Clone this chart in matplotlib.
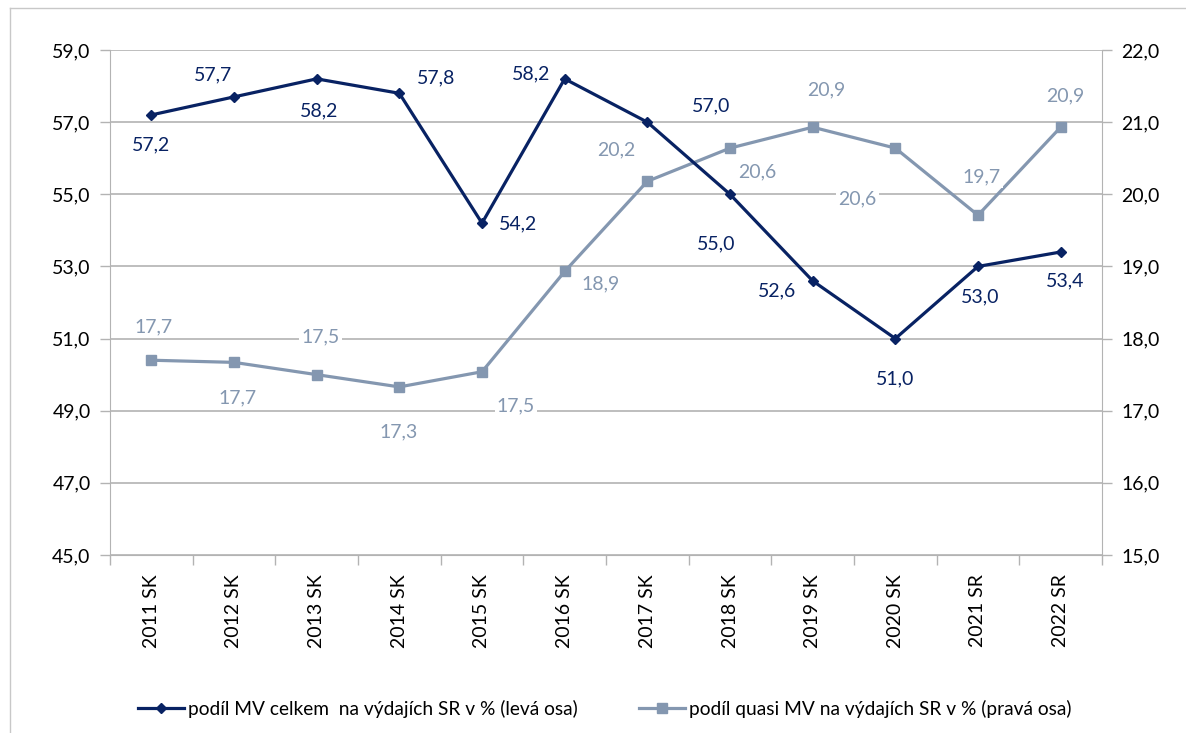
import matplotlib
matplotlib.use("Agg")
import matplotlib.pyplot as plt
from matplotlib.lines import Line2D

# -----------------------------
# DATA
# -----------------------------
years = ["2011 SK", "2012 SK", "2013 SK", "2014 SK", "2015 SK", "2016 SK",
         "2017 SK", "2018 SK", "2019 SK", "2020 SK", "2021 SR", "2022 SR"]
mv_total = [57.2, 57.7, 58.2, 57.8, 54.2, 58.2, 57.0, 55.0, 52.6, 51.0, 53.0, 53.4]
mv_quasi = [17.70, 17.67, 17.50, 17.33, 17.54, 18.93, 20.18, 20.64, 20.93, 20.64, 19.71, 20.93]

left_ticks = [45, 47, 49, 51, 53, 55, 57, 59]
right_ticks = [15, 16, 17, 18, 19, 20, 21, 22]

# label offsets in pixels (dx, dy), as placed in the original chart
total_offsets = [(0, -30), (-21, 22), (2, -32), (37, 15), (36, -1), (-34, 5),
                 (64, 16), (-14, -50), (-36, -10), (0, -40), (2, -30), (4, -29)]
quasi_offsets = [(2, 33), (4, -35), (4, 38), (-1, -45), (34, -34), (36, -12),
                 (-31, 31), (27, -24), (14, 37), (-38, -51), (4, 38), (5, 31)]

NAVY = "#082263"
STEEL = "#8497b0"
GRID = "#b3b3b3"
FONT = "Lato"
FS = 14


def fmt(v):
    return f"{v:.1f}".replace(".", ",")


plt.rcParams["font.family"] = [FONT, "DejaVu Sans"]

fig = plt.figure(figsize=(11.86, 7.33), dpi=100)
ax = fig.add_axes([110 / 1186, 1 - 555 / 733, 992 / 1186, 505 / 733])
ax2 = ax.twinx()

# navy line on top of the grey one
ax.set_zorder(ax2.get_zorder() + 1)
ax.patch.set_visible(False)
ax2.patch.set_visible(True)
ax2.patch.set_facecolor("white")

x = list(range(len(years)))

ax.plot(x, mv_total, color=NAVY, lw=2.3, marker="D", ms=5.5, zorder=3)
ax2.plot(x, mv_quasi, color=STEEL, lw=2.3, marker="s", ms=7, zorder=3)

for xi, v, (dx, dy) in zip(x, mv_total, total_offsets):
    ax.annotate(fmt(v), (xi, v), xytext=(dx, dy), textcoords="offset pixels",
                ha="center", va="center", fontsize=FS, color=NAVY, zorder=5,
                bbox=dict(fc="white", ec="none", pad=1.5))

for xi, v, (dx, dy) in zip(x, mv_quasi, quasi_offsets):
    ax2.annotate(fmt(v), (xi, v), xytext=(dx, dy), textcoords="offset pixels",
                 ha="center", va="center", fontsize=FS, color=STEEL, zorder=5,
                 bbox=dict(fc="white", ec="none", pad=1.5))

# -----------------------------
# AXES
# -----------------------------
ax.set_xlim(-0.5, len(years) - 0.5)
ax.set_ylim(45, 59)
ax2.set_ylim(15, 22)

ax.set_yticks(left_ticks)
ax.set_yticklabels([fmt(t) for t in left_ticks])
ax2.set_yticks(right_ticks)
ax2.set_yticklabels([fmt(t) for t in right_ticks])

ax.set_xticks(x)
ax.set_xticklabels(years, rotation=90, fontsize=FS)
ax.set_xticks([i - 0.5 for i in range(len(years) + 1)], minor=True)
ax.tick_params(axis="x", which="major", length=0, pad=14)
ax.tick_params(axis="x", which="minor", length=7, color=GRID, width=1)

ax.tick_params(axis="y", length=7, color=GRID, width=1, labelsize=FS, pad=7)
ax2.tick_params(axis="y", length=7, color=GRID, width=1, labelsize=FS, pad=7)

ax2.yaxis.grid(True, color=GRID, lw=1.2)
ax2.set_axisbelow(True)

for a in (ax, ax2):
    for s in a.spines.values():
        s.set_visible(False)
ax.spines["left"].set_visible(True)
ax.spines["left"].set_color(GRID)
ax.spines["bottom"].set_visible(True)
ax.spines["bottom"].set_color(GRID)
ax2.spines["right"].set_visible(True)
ax2.spines["right"].set_color(GRID)

# -----------------------------
# LEGEND
# -----------------------------
handles = [
    Line2D([], [], color=NAVY, lw=2.3, marker="D", ms=5),
    Line2D([], [], color=STEEL, lw=2.3, marker="s", ms=6.5),
]
labels = [
    "podíl MV celkem  na výdajích SR v % (levá osa)",
    "podíl quasi MV na výdajích SR v % (pravá osa)",
]
fig.legend(handles, labels, loc="center", bbox_to_anchor=(0.51, 1 - 709 / 733),
           ncol=2, frameon=False, fontsize=13.8, handlelength=2.4,
           handletextpad=0.2, columnspacing=3.2)

# outer chart frame (top and left edges visible)
fig.add_artist(Line2D([10 / 1186, 1], [1 - 8 / 733, 1 - 8 / 733],
                      transform=fig.transFigure, color="#c8c8c8", lw=1))
fig.add_artist(Line2D([10 / 1186, 10 / 1186], [0, 1 - 8 / 733],
                      transform=fig.transFigure, color="#c8c8c8", lw=1))

fig.savefig("out.png", dpi=100, facecolor="white")
